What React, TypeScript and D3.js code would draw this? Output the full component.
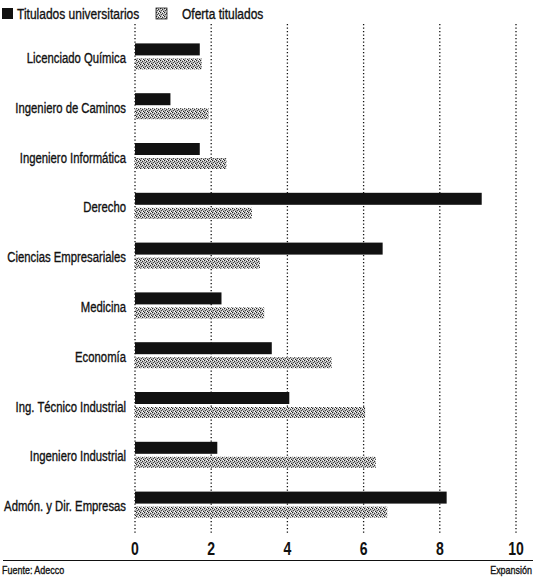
import React from "react";
import * as d3 from "d3";

const categories = [
  "Licenciado Química",
  "Ingeniero de Caminos",
  "Ingeniero Informática",
  "Derecho",
  "Ciencias Empresariales",
  "Medicina",
  "Economía",
  "Ing. Técnico Industrial",
  "Ingeniero Industrial",
  "Admón. y Dir. Empresas",
];
const titulados = [1.7, 0.93, 1.7, 9.1, 6.5, 2.27, 3.59, 4.05, 2.16, 8.18];
const oferta = [1.75, 1.93, 2.4, 3.07, 3.28, 3.39, 5.16, 6.04, 6.32, 6.62];
const ticks = [0, 2, 4, 6, 8, 10];
const seriesNames = ["Titulados universitarios", "Oferta titulados"];

const W = 533;
const H = 577;
const FONT = "'Liberation Sans', Arial, sans-serif";

function CText(props: {
  x: number;
  y: number;
  size: number;
  sx?: number;
  anchor?: "start" | "middle" | "end";
  bold?: boolean;
  children: React.ReactNode;
}) {
  const sx = props.sx ?? 0.78;
  return (
    <text
      transform={`translate(${props.x},${props.y}) scale(${sx},1)`}
      textAnchor={props.anchor || "start"}
      fontFamily={FONT}
      fontSize={props.size}
      fontWeight={props.bold ? "bold" : "normal"}
      fill="#111"
      stroke="#111"
      strokeWidth={props.bold ? 0 : 0.35}
    >
      {props.children}
    </text>
  );
}

export default function App() {
  const x = d3.scaleLinear().domain([0, 10]).range([135, 516]);
  const y = d3.scaleBand<string>().domain(categories).range([33, 531]).paddingInner(0).paddingOuter(0);
  const bh = 12;
  const gap = 3;

  return (
    <svg width={W} height={H} style={{ position: "absolute", left: 0, top: 0, background: "#fff" }}>
      <defs>
        <pattern id="hatch" width="4" height="4" patternUnits="userSpaceOnUse">
          <rect width="4" height="4" fill="#b5b5b5" />
          <rect x="0" y="0" width="1" height="1" fill="#222" />
          <rect x="2" y="1" width="1" height="1" fill="#333" />
          <rect x="1" y="2" width="1" height="1" fill="#444" />
          <rect x="3" y="3" width="1" height="1" fill="#222" />
          <rect x="3" y="0" width="1" height="1" fill="#fff" />
          <rect x="1" y="1" width="1" height="1" fill="#eee" />
          <rect x="2" y="3" width="1" height="1" fill="#fff" />
        </pattern>
      </defs>
      {/* legend */}
      <rect x={2} y={8} width={11} height={11} fill="#111" />
      <CText x={17} y={18.5} size={15} sx={0.8}>{seriesNames[0]}</CText>
      <rect x={156} y={8} width={11} height={11} fill="url(#hatch)" stroke="#222" strokeWidth={0.8} />
      <CText x={182} y={18.5} size={15} sx={0.8}>{seriesNames[1]}</CText>

      {/* gridlines */}
      {ticks.map((t) => (
        <line key={t} x1={x(t)} x2={x(t)} y1={24} y2={535} stroke="#111" strokeWidth={1.3} strokeDasharray="1.3,2.2" />
      ))}

      {/* bars */}
      {categories.map((c, i) => {
        const yc = (y(c) as number) + y.bandwidth() / 2;
        return (
          <g key={c}>
            <rect x={x(0)} y={yc - bh - gap / 2 - 1} width={x(titulados[i]) - x(0)} height={bh} fill="#111" />
            <rect x={x(0)} y={yc + gap / 2 - 1} width={x(oferta[i]) - x(0)} height={bh - 1} fill="url(#hatch)" />
            <CText x={126} y={yc + 5} size={14.5} anchor="end">{c}</CText>
          </g>
        );
      })}

      {/* tick labels */}
      {ticks.map((t) => (
        <CText key={t} x={x(t)} y={555} size={18} anchor="middle" bold>{t}</CText>
      ))}
      <line x1={3} x2={533} y1={560.5} y2={560.5} stroke="#111" strokeWidth={1} />
      <CText x={2} y={574} size={11.5}>Fuente: Adecco</CText>
      <CText x={532} y={574} size={11.5} anchor="end">Expansión</CText>
    </svg>
  );
}
